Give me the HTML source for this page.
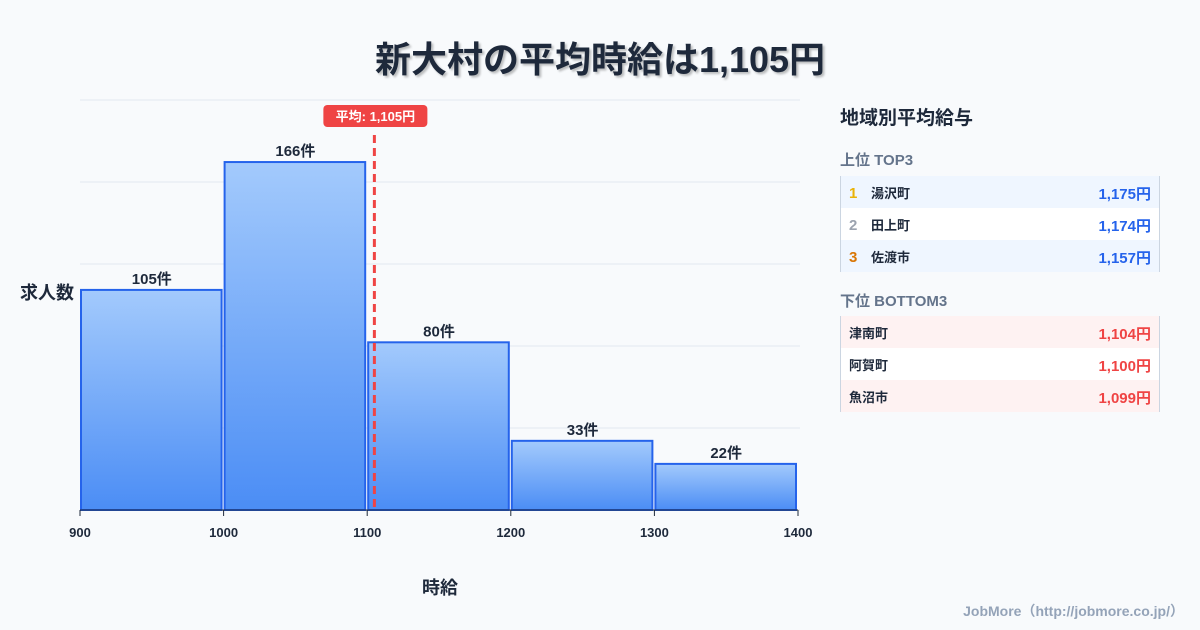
<!DOCTYPE html>
<html><head><meta charset="utf-8">
<style>
body{margin:0;width:1200px;height:630px;background:#f8fafc;font-family:"Liberation Sans","Noto Sans CJK JP",sans-serif;overflow:hidden;position:relative}
.title{position:absolute;top:31px;left:0;width:1200px;text-align:center;font-size:36px;font-weight:bold;color:#1e293b;text-shadow:2px 2px 2px rgba(0,0,0,0.25)}
.panel{position:absolute;left:840px;top:0;width:320px}
.ph{position:absolute;left:0;top:103px;font-size:19px;font-weight:bold;color:#1e293b;white-space:nowrap}
.sec{position:absolute;left:0;font-size:15px;font-weight:bold;color:#64748b;white-space:nowrap}
.tbl{position:absolute;left:0;width:320px;border-left:1px solid #cbd5e1;border-right:1px solid #cbd5e1;box-sizing:border-box}
.row{height:32px;display:flex;align-items:center;font-size:13px;font-weight:bold;color:#1e293b;padding:0 8px}
.row .rk{width:22px;font-size:15px;line-height:32px;padding-top:3px}
.row .v{margin-left:auto;font-size:15px;padding-top:3px}
.blue .v{color:#2563eb}.red .v{color:#ef4444}
.foot{position:absolute;right:16px;bottom:9px;font-size:14px;font-weight:bold;color:#94a3b8}
</style></head><body>
<div class="title">新大村の平均時給は1,105円</div>
<svg id="chart" width="1200" height="630" style="position:absolute;left:0;top:0"></svg>
<div class="panel">
<div class="ph">地域別平均給与</div>
<div class="sec" style="top:149px">上位 TOP3</div>
<div class="tbl blue" style="top:176px">
<div class="row" style="background:#eff6ff"><span class="rk" style="color:#eab308">1</span>湯沢町<span class="v">1,175円</span></div>
<div class="row" style="background:#fff"><span class="rk" style="color:#9ca3af">2</span>田上町<span class="v">1,174円</span></div>
<div class="row" style="background:#eff6ff"><span class="rk" style="color:#d97706">3</span>佐渡市<span class="v">1,157円</span></div>
</div>
<div class="sec" style="top:290px">下位 BOTTOM3</div>
<div class="tbl red" style="top:316px">
<div class="row" style="background:#fef2f2">津南町<span class="v">1,104円</span></div>
<div class="row" style="background:#fff">阿賀町<span class="v">1,100円</span></div>
<div class="row" style="background:#fef2f2">魚沼市<span class="v">1,099円</span></div>
</div>
</div>
<div class="foot">JobMore（http://jobmore.co.jp/）</div>
<script>
const binStarts=[900,1000,1100,1200,1300];
const counts=[105,166,80,33,22];
const xTicks=[900,1000,1100,1200,1300,1400];
const meanValue=1105;
const meanLabel="平均: 1,105円";
const NS="http://www.w3.org/2000/svg";
const svg=document.getElementById('chart');
const X0=80,X1=798,Y0=510,YT=100,xmin=900,xmax=1400,ymax=195.6;
const x=v=>X0+(v-xmin)/(xmax-xmin)*(X1-X0);
const y=v=>Y0-v/ymax*(Y0-YT);
function el(t,a){const e=document.createElementNS(NS,t);for(const k in a)e.setAttribute(k,a[k]);svg.appendChild(e);return e;}
const defs=el('defs',{});
defs.innerHTML='<linearGradient id="g" x1="0" y1="0" x2="0" y2="1"><stop offset="0" stop-color="#a3cafc"/><stop offset="1" stop-color="#4b8df5"/></linearGradient>';
for(let i=0;i<=5;i++){const gy=Y0-i*(Y0-YT)/5;const l=el('line',{x1:X0,x2:X1+2,y1:gy,y2:gy,stroke:'#e2e8f0','stroke-width':1});

}
binStarts.forEach((b,i)=>{
 const r=el('rect',{x:x(b)+1,y:y(counts[i]),width:x(b+100)-x(b)-3,height:Y0-y(counts[i]),fill:'url(#g)',stroke:'#2563eb','stroke-width':2});
 
 
 const t=el('text',{x:(x(b)+x(b+100))/2,y:y(counts[i])-6,'text-anchor':'middle','font-size':15,'font-weight':'bold',fill:'#1e293b'});
 t.textContent=counts[i]+'件';
 
 
});
const ax=el('line',{x1:X0,x2:X1,y1:Y0,y2:Y0,stroke:'#1e293b','stroke-width':1});


xTicks.forEach(v=>{
 const tk=el('line',{x1:x(v),x2:x(v),y1:Y0,y2:Y0+6,stroke:'#1e293b'});
 
 
 const t=el('text',{x:x(v),y:537,'text-anchor':'middle','font-size':13,'font-weight':'bold',fill:'#1e293b'});
 t.textContent=v;
 
 
});
const mx=x(meanValue);
const ml=el('line',{x1:mx,x2:mx,y1:135,y2:Y0,stroke:'#ef4444','stroke-width':3,'stroke-dasharray':'8,5'});


const mb=el('rect',{x:mx-51,y:105,width:104,height:22,rx:4,fill:'#ef4444'});


const mt=el('text',{x:mx+1,y:121,'text-anchor':'middle','font-size':13,'font-weight':'bold',fill:'#fff'});
mt.textContent=meanLabel;


const yt=el('text',{x:20,y:299,'font-size':18,'font-weight':'bold',fill:'#1e293b'});
yt.textContent='求人数';


const xt=el('text',{x:440,y:594,'text-anchor':'middle','font-size':18,'font-weight':'bold',fill:'#1e293b'});
xt.textContent='時給';


</script>
</body></html>
